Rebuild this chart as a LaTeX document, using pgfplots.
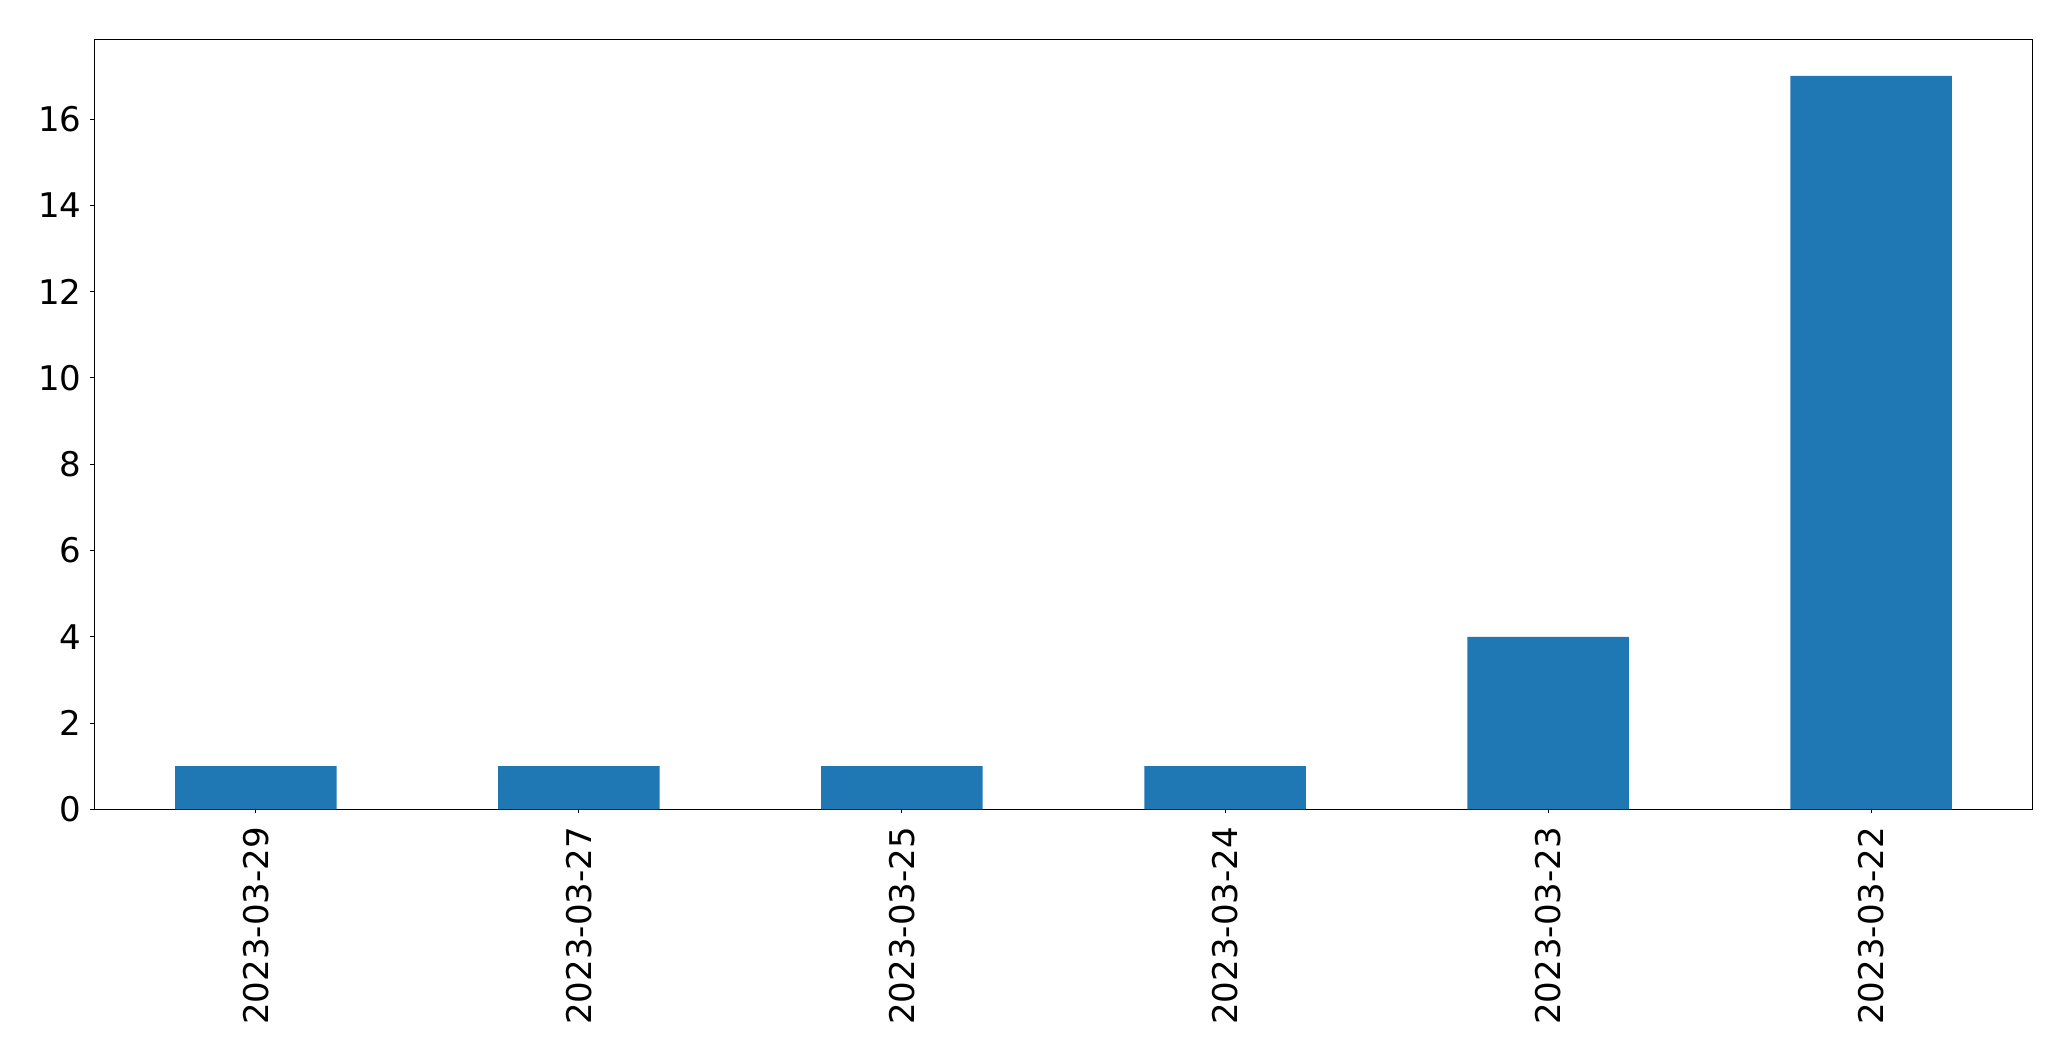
\documentclass[border=0pt]{standalone}
\usepackage{pgfplots}
\pgfplotsset{compat=1.18}
\usepackage{fontspec}
\setmainfont{DejaVu Sans}
\definecolor{mplblue}{HTML}{1F77B4}
\begin{document}
\begin{tikzpicture}
\begin{axis}[
  name=ax,
  at={(0,0)}, anchor=south west,
  scale only axis,
  width=969.2pt, height=385pt,
  xmin=-0.5, xmax=5.5, ymin=0, ymax=17.85,
  xtick=data,
  xticklabels={2023-03-29,2023-03-27,2023-03-25,2023-03-24,2023-03-23,2023-03-22},
  ytick={0,2,4,6,8,10,12,14,16},
  axis line style={line width=0.5pt},
  tick style={black, line width=0.5pt},
  tick align=outside,
  major tick length=2pt,
  xtick pos=bottom, ytick pos=left,
  /pgf/number format/assume math mode=true,
  tick label style={font=\fontsize{17}{20}\selectfont},
  x tick label style={rotate=90, anchor=east, inner sep=0pt, yshift=0pt, xshift=-6.7pt},
  y tick label style={inner sep=0pt, xshift=-4.3pt},
  ybar, bar width=0.5,
]
\addplot[fill=mplblue, draw=none, bar shift=0pt] coordinates {
  (0,1) (1,1) (2,1) (3,1) (4,4) (5,17)
};
\end{axis}
\pgfresetboundingbox
\useasboundingbox (-47.15pt,-125.85pt) rectangle (988.35pt,404.65pt);
\end{tikzpicture}
\end{document}
